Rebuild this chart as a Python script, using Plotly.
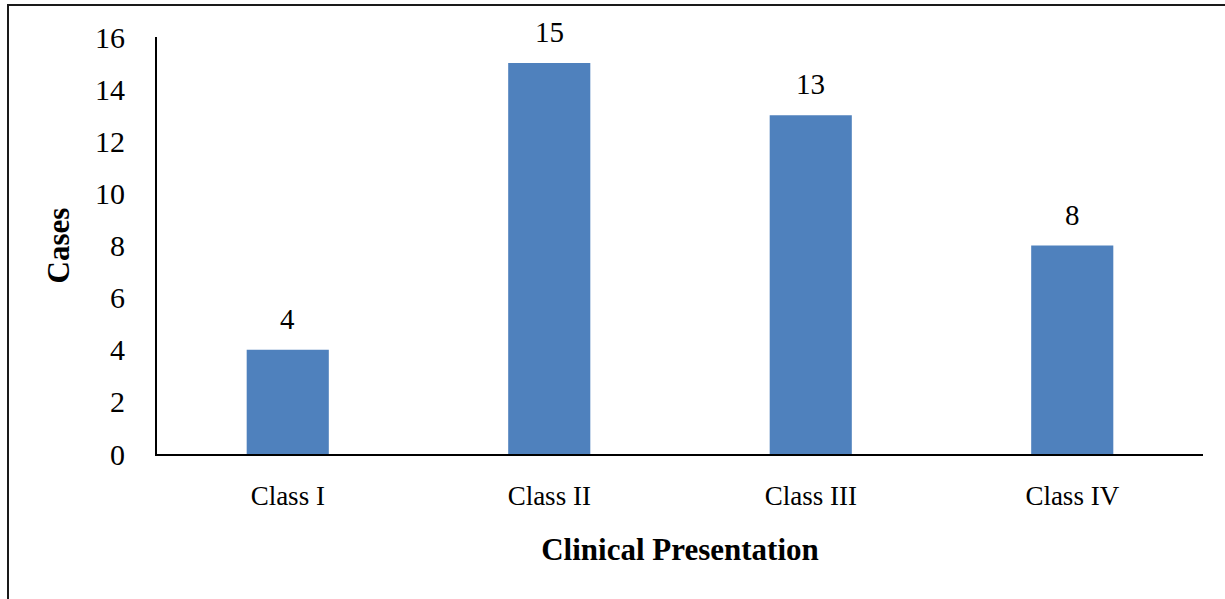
import plotly.graph_objects as go

# Cases by clinical presentation class
categories = ["Class I", "Class II", "Class III", "Class IV"]
cases = [4, 15, 13, 8]

bar_color = "#4F81BD"
serif = "Liberation Serif, Times New Roman, serif"

fig = go.Figure()
fig.add_trace(go.Bar(
    x=categories,
    y=cases,
    marker=dict(color=bar_color, line=dict(width=0)),
    width=0.314,
    hoverinfo="x+y",
))

# Value labels above each bar
for cat, val in zip(categories, cases):
    fig.add_annotation(
        x=cat, y=val, text=str(val),
        showarrow=False, yanchor="bottom", yshift=13,
        font=dict(family=serif, size=29, color="#000"),
    )

# Outer frame around the chart area
W, H = 1225, 599
ml, mr, mt, mb = 157, 22, 37, 145
pw, ph = W - ml - mr, H - mt - mb
fig.add_shape(
    type="rect", xref="paper", yref="paper",
    x0=(8 - ml) / pw, x1=(W + 10 - ml) / pw,
    y0=-(H + 10 - (H - mb)) / ph, y1=((H - mb) - 5) / ph,
    line=dict(color="#1a1a1a", width=2), fillcolor="rgba(0,0,0,0)",
    layer="above",
)

fig.update_layout(
    width=W, height=H,
    margin=dict(l=ml, r=mr, t=mt, b=mb),
    paper_bgcolor="white", plot_bgcolor="white",
    showlegend=False,
    font=dict(family=serif, color="#000"),
    xaxis=dict(
        showline=True, linecolor="#000", linewidth=2,
        ticks="", showgrid=False, zeroline=False,
        tickfont=dict(family=serif, size=27, color="#000"),
        ticklabelstandoff=17,
        title=dict(text="<b>Clinical Presentation</b>",
                   font=dict(family=serif, size=31, color="#000"),
                   standoff=28),
    ),
    yaxis=dict(
        range=[0, 16], dtick=2,
        showline=True, linecolor="#000", linewidth=2,
        ticks="", showgrid=False, zeroline=False,
        tickfont=dict(family=serif, size=30, color="#000"),
        ticklabelstandoff=24,
        title=dict(text="<b>Cases</b>",
                   font=dict(family=serif, size=31, color="#000"),
                   standoff=16),
    ),
)

fig.write_html("out.html")
